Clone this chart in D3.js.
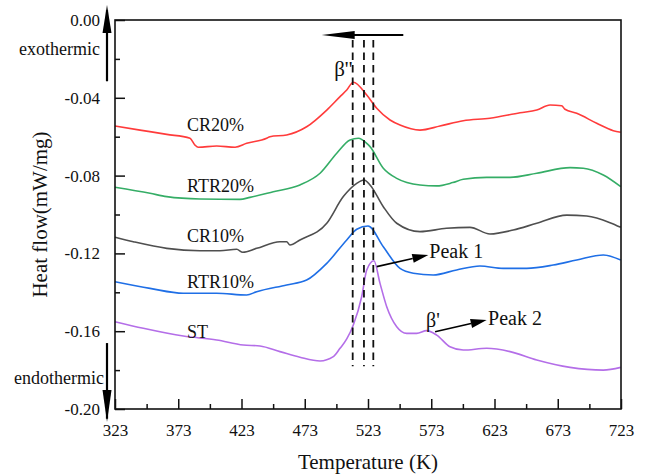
<!DOCTYPE html>
<html><head><meta charset="utf-8">
<script src="https://cdn.jsdelivr.net/npm/d3@7"></script>
<style>
html,body{margin:0;padding:0;background:#fff;}
text{font-family:"Liberation Serif","Times New Roman",serif;fill:#111;}
</style></head>
<body><svg id="chart" width="649" height="475"></svg>
<script>
// ---- data (Temperature K, heat flow mW/mg) ----
const xTicks = [323,373,423,473,523,573,623,673,723];
const xMinorTicks = [348,398,448,498,548,598,648,698];
const yTicks = [0,-0.04,-0.08,-0.12,-0.16,-0.20];
const yTickLabels = ["0.00","-0.04","-0.08","-0.12","-0.16","-0.20"];
const yMinorTicks = [-0.02,-0.06,-0.10,-0.14,-0.18];

const seriesNames = ["CR20%","RTR20%","CR10%","RTR10%","ST"];
const seriesColors = ["#ff3b3b","#35ad66","#4f4f4f","#1f6fe6","#b46ee8"];

const cr20T = [323,342.8,363.9,382.3,386.2,388.8,403.4,417.9,427.1,442.9,445.5,458.7,474.5,490.4,500.9,506.2,511.4,522,529.9,540.4,548.3,564.1,579.9,598.3,619.4,643.2,656.4,666.9,676.1,678.7,688,703.8,716.9,722.8];
const cr20V = [-0.0545,-0.0566,-0.0588,-0.0608,-0.0643,-0.0654,-0.0648,-0.0654,-0.0634,-0.0608,-0.0600,-0.0591,-0.0549,-0.0463,-0.0394,-0.0360,-0.0320,-0.0386,-0.0454,-0.0514,-0.0540,-0.0566,-0.0545,-0.0518,-0.0505,-0.0477,-0.0463,-0.0437,-0.0441,-0.0459,-0.0480,-0.0531,-0.0569,-0.0577];

const rtr20T = [323,350.7,363.9,390.2,421.8,429.7,448.1,469.2,485.1,498.3,508.8,515.4,522,524.6,535.1,545.7,564.1,577.3,590,598.3,616.8,635.3,656.4,682.7,693.2,709,722.8];
const rtr20V = [-0.0860,-0.0891,-0.0908,-0.0920,-0.0922,-0.0912,-0.0883,-0.0848,-0.0788,-0.0685,-0.0617,-0.0608,-0.0634,-0.0651,-0.0762,-0.0814,-0.0848,-0.0853,-0.0836,-0.0819,-0.0809,-0.0809,-0.0788,-0.0759,-0.0762,-0.0797,-0.0857];

const cr10T = [323,337.5,363.9,390.2,406,419.2,424,435,453.4,458.7,461.3,469.2,490.4,503.5,514.1,519.8,524.6,535.1,545.7,564.1,585,603.6,619.4,637.8,656.4,680.1,695.9,714.3,722.8];
const cr10V = [-0.1117,-0.1140,-0.1174,-0.1186,-0.1186,-0.1179,-0.1194,-0.1174,-0.1140,-0.1140,-0.1157,-0.1131,-0.1045,-0.0908,-0.0840,-0.0823,-0.0848,-0.0960,-0.1045,-0.1088,-0.1071,-0.1066,-0.1100,-0.1080,-0.1045,-0.1003,-0.1008,-0.1042,-0.1066];

const rtr10T = [323,350.7,377,403.4,427.1,435,458.7,474.5,490.4,506.2,514.1,523,535.1,548.3,558.8,574.6,593.1,611.5,629.9,648.4,669.4,688,709,722.8];
const rtr10V = [-0.1346,-0.1380,-0.1405,-0.1405,-0.1414,-0.1397,-0.1362,-0.1337,-0.1251,-0.1131,-0.1076,-0.1059,-0.1166,-0.1277,-0.1302,-0.1311,-0.1285,-0.1265,-0.1277,-0.1277,-0.1260,-0.1234,-0.1208,-0.1234];

const stT = [323,345.4,377,403.4,424.4,437.6,453.4,469.2,485.1,495.6,500.9,506.2,511.4,518,522,527.7,532.5,537.8,545.7,553.6,561.5,569.4,577.3,587.8,598.3,616.8,635.3,656.4,682.7,709,722.8];
const stV = [-0.1551,-0.1585,-0.1625,-0.1645,-0.1671,-0.1676,-0.1705,-0.1734,-0.1753,-0.1731,-0.1688,-0.1640,-0.1568,-0.1423,-0.1285,-0.1238,-0.1354,-0.1474,-0.1577,-0.1611,-0.1611,-0.1597,-0.1620,-0.1680,-0.1697,-0.1688,-0.1705,-0.1748,-0.1786,-0.1800,-0.1786];

const seriesT = [cr20T, rtr20T, cr10T, rtr10T, stT];
const seriesV = [cr20V, rtr20V, cr10V, rtr10V, stV];

// label positions (T, V baseline)
const labelT = [380,380,380,380,380];
const labelV = [-0.0571,-0.0883,-0.1140,-0.1380,-0.1635];

// dashed peak guides
const guideT = [510.9,519.8,527.2];
const guideTop = -0.0103, guideBottom = -0.178;

// ---- drawing ----
const W = 649, H = 475;
const m = {left:115, top:20, right:28, bottom:66};
const x = d3.scaleLinear().domain([323,723]).range([m.left, W - m.right]);
const y = d3.scaleLinear().domain([-0.20,0]).range([H - m.bottom, m.top]);
const svg = d3.select("#chart");

// curves
const line = d3.line().x(d=>x(d[0])).y(d=>y(d[1])).curve(d3.curveMonotoneX);
seriesNames.forEach((n,i)=>{
  const pts = seriesT[i].map((t,j)=>[t, seriesV[i][j]]);
  svg.append("path").attr("d", line(pts)).attr("fill","none")
    .attr("stroke", seriesColors[i]).attr("stroke-width",1.6);
  svg.append("text").attr("x", x(labelT[i])).attr("y", y(labelV[i]))
    .attr("font-size",18).text(n);
});

// dashed lines
guideT.forEach(t=>{
  svg.append("line").attr("x1",x(t)).attr("x2",x(t)).attr("y1",y(guideTop)).attr("y2",y(guideBottom))
    .attr("stroke","#111").attr("stroke-width",1.8).attr("stroke-dasharray","7.5,5");
});

// axes
svg.append("g").attr("transform",`translate(0,${y(-0.2)})`)
  .call(d3.axisBottom(x).tickValues(xTicks).tickSize(-10).tickPadding(15).tickFormat(d=>String(d)));
svg.append("g").attr("transform",`translate(0,${y(-0.2)})`)
  .call(d3.axisBottom(x).tickValues(xMinorTicks).tickSize(-5).tickFormat(""));
svg.append("g").attr("transform",`translate(${x(323)},0)`)
  .call(d3.axisLeft(y).tickValues(yTicks).tickSize(-10).tickPadding(15).tickFormat((d,i)=>yTickLabels[i]));
svg.append("g").attr("transform",`translate(${x(323)},0)`)
  .call(d3.axisLeft(y).tickValues(yMinorTicks).tickSize(-5).tickFormat(""));
svg.selectAll(".domain").remove();
svg.selectAll(".tick line").attr("stroke","#111").attr("stroke-width",1.5);
svg.selectAll(".tick text").attr("font-size",17).attr("font-family","Liberation Serif").attr("fill","#111");

// frame
svg.append("rect").attr("x",x(323)).attr("y",y(0)).attr("width",x(723)-x(323)).attr("height",y(-0.2)-y(0))
  .attr("fill","none").attr("stroke","#111").attr("stroke-width",1.6);

// axis titles
svg.append("text").attr("x",(x(323)+x(723))/2).attr("y",469).attr("text-anchor","middle")
  .attr("font-size",21).text("Temperature (K)");
svg.append("text").attr("transform",`translate(47,${(y(0)+y(-0.2))/2}) rotate(-90)`).attr("text-anchor","middle")
  .attr("font-size",21).text("Heat flow(mW/mg)");

// exo / endo arrows beside the y axis
const ax = x(323) - 8;
svg.append("line").attr("x1",ax).attr("x2",ax).attr("y1",y(-0.0315)).attr("y2",y(0.005)).attr("stroke","#000").attr("stroke-width",2.2);
svg.append("path").attr("d",`M${ax},${y(0.0077)} L${ax-4.5},${y(-0.0067)} L${ax+4.5},${y(-0.0067)} Z`).attr("fill","#000");
svg.append("line").attr("x1",ax).attr("x2",ax).attr("y1",y(-0.1661)).attr("y2",y(-0.205)).attr("stroke","#000").attr("stroke-width",2.2);
svg.append("path").attr("d",`M${ax},${y(-0.2067)} L${ax-4.5},${y(-0.1902)} L${ax+4.5},${y(-0.1902)} Z`).attr("fill","#000");
svg.append("text").attr("x",ax-7).attr("y",y(-0.0180)).attr("text-anchor","end").attr("font-size",18).text("exothermic");
svg.append("text").attr("x",ax-3).attr("y",y(-0.1871)).attr("text-anchor","end").attr("font-size",18).text("endothermic");

// top shift arrow
const arrT0 = 550.9, arrT1 = 486.4, arrV = -0.0077;
svg.append("line").attr("x1",x(arrT0)).attr("x2",x(arrT1)+20).attr("y1",y(arrV)).attr("y2",y(arrV)).attr("stroke","#000").attr("stroke-width",2);
svg.append("path").attr("d",`M${x(arrT1)},${y(arrV)} L${x(arrT1)+33},${y(arrV)-4} L${x(arrT1)+33},${y(arrV)+4} Z`).attr("fill","#000");

// beta'' label
svg.append("text").attr("x",x(503.5)).attr("y",y(-0.0288)).attr("text-anchor","middle").attr("font-size",21).text("β''");

// Peak arrows
function arrow(t0,v0,t1,v1){
  const x0=x(t0),y0=y(v0),x1=x(t1),y1=y(v1);
  const a=Math.atan2(y1-y0,x1-x0), L=16, Wd=4.5;
  const bx=x1-L*Math.cos(a), by=y1-L*Math.sin(a);
  svg.append("line").attr("x1",x0).attr("y1",y0).attr("x2",bx).attr("y2",by).attr("stroke","#000").attr("stroke-width",1.6);
  svg.append("path").attr("d",`M${x1},${y1} L${bx-Wd*Math.sin(a)},${by+Wd*Math.cos(a)} L${bx+Wd*Math.sin(a)},${by-Wd*Math.cos(a)} Z`).attr("fill","#000");
}
arrow(529.9,-0.1268,570.7,-0.1208);
arrow(576,-0.1603,616.8,-0.1542);
svg.append("text").attr("x",x(571.5)).attr("y",y(-0.1224)).attr("font-size",20).text("Peak 1");
svg.append("text").attr("x",x(617.9)).attr("y",y(-0.1568)).attr("font-size",20).text("Peak 2");
svg.append("text").attr("x",x(568.9)).attr("y",y(-0.1578)).attr("font-size",20).text("β'");
</script></body></html>
